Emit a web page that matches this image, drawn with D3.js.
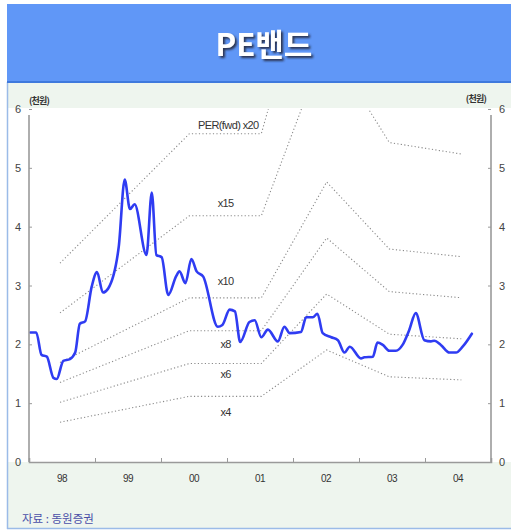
<!DOCTYPE html>
<html>
<head>
<meta charset="utf-8">
<script src="https://cdn.jsdelivr.net/npm/d3@7"></script>
<style>
  html, body { margin: 0; padding: 0; background: #ffffff; }
  svg { display: block; }
</style>
</head>
<body>
<svg id="chart" width="511" height="531"></svg>
<script>
// Share price (thousand won), sampled along the period in decimal years
const priceDates = [1998.02, 1998.11, 1998.19, 1998.27, 1998.37, 1998.42, 1998.52, 1998.62, 1998.70, 1998.77,
  1998.85, 1998.95, 1999.03, 1999.12, 1999.20, 1999.36, 1999.45, 1999.53, 1999.60, 1999.78,
  1999.86, 1999.93, 2000.01, 2000.11, 2000.23, 2000.28, 2000.37, 2000.46, 2000.54, 2000.64,
  2000.86, 2000.93, 2001.04, 2001.12, 2001.20, 2001.34, 2001.42, 2001.52, 2001.62, 2001.77,
  2001.87, 2001.95, 2002.12, 2002.20, 2002.30, 2002.37, 2002.45, 2002.58, 2002.68, 2002.78,
  2002.86, 2003.03, 2003.08, 2003.21, 2003.28, 2003.36, 2003.46, 2003.56, 2003.66, 2003.76,
  2003.86, 2003.99, 2004.09, 2004.14, 2004.24, 2004.37, 2004.47, 2004.57, 2004.71];
const priceValues = [2.20, 2.20, 1.82, 1.79, 1.43, 1.41, 1.72, 1.75, 1.86, 2.35,
  2.39, 2.98, 3.23, 2.88, 2.95, 3.66, 4.80, 4.30, 4.38, 3.52,
  4.58, 3.52, 3.48, 2.84, 3.16, 3.24, 3.04, 3.45, 3.24, 3.15,
  2.30, 2.33, 2.59, 2.56, 2.04, 2.38, 2.41, 2.12, 2.25, 2.05,
  2.30, 2.19, 2.21, 2.46, 2.46, 2.52, 2.19, 2.12, 2.07, 1.86,
  1.96, 1.76, 1.78, 1.79, 2.03, 1.99, 1.89, 1.89, 1.99, 2.24,
  2.53, 2.07, 2.05, 2.06, 1.99, 1.86, 1.86, 1.96, 2.18];

// Earnings per share path used for the PER bands
const epsDates = [1998.47, 2000.43, 2001.52, 2002.51, 2003.46, 2004.55];
const epsValues = [0.169, 0.279, 0.279, 0.476, 0.362, 0.349];

// Band multiples and their labels
const bandMultiples = [20, 15, 10, 8, 6, 4];
const bandLabels = ["PER(fwd) x20", "x15", "x10", "x8", "x6", "x4"];

// Axis text
const yearTicks = [1998, 1999, 2000, 2001, 2002, 2003, 2004, 2005];
const yearLabels = ["98", "99", "00", "01", "02", "03", "04"];
const yTicks = [0, 1, 2, 3, 4, 5, 6];
const unitLabel = "(천원)";
const titleText = "PE밴드";
const sourceText = "자료 : 동원증권";

const svg = d3.select("#chart");
const W = 511, H = 531;
const plot = { left: 29, right: 491, top: 109, bottom: 462 };

// Outer panel
svg.append("rect").attr("x", 7).attr("y", 82).attr("width", W - 7).attr("height", 447)
  .attr("fill", "#eef5ee");
svg.append("rect").attr("x", 7).attr("y", 108).attr("width", W - 7).attr("height", plot.bottom - 108)
  .attr("fill", "#ffffff");
svg.append("line").attr("x1", 7.5).attr("x2", 7.5).attr("y1", 82).attr("y2", 529)
  .attr("stroke", "#9bbbe8").attr("stroke-width", 1.5);
svg.append("line").attr("x1", 7).attr("x2", W).attr("y1", 528.5).attr("y2", 528.5)
  .attr("stroke", "#9bbbe8").attr("stroke-width", 1.5);

// Header band
svg.append("rect").attr("x", 7).attr("y", 4).attr("width", W - 7).attr("height", 78)
  .attr("fill", "#6097f7");
svg.append("line").attr("x1", 7).attr("x2", W).attr("y1", 82).attr("y2", 82)
  .attr("stroke", "#3f79dd").attr("stroke-width", 2);

const defs = svg.append("defs");
defs.append("filter").attr("id", "titleShadow")
  .attr("x", "-10%").attr("y", "-20%").attr("width", "130%").attr("height", "150%")
  .append("feDropShadow").attr("dx", 2).attr("dy", 2).attr("stdDeviation", 0.9)
  .attr("flood-color", "#23283d").attr("flood-opacity", 0.9);
defs.append("clipPath").attr("id", "plotClip").append("rect")
  .attr("x", plot.left).attr("y", plot.top)
  .attr("width", plot.right - plot.left).attr("height", plot.bottom - plot.top);

svg.append("text").attr("x", 264).attr("y", 56)
  .attr("font-family", "'Noto Sans CJK KR', 'Noto Sans', sans-serif")
  .attr("font-weight", 700).attr("font-size", 31).attr("text-anchor", "middle")
  .attr("fill", "#ffffff").attr("filter", "url(#titleShadow)").text(titleText);

// Scales
const x = d3.scaleLinear().domain([1998, 2005]).range([plot.left, plot.right]);
const y = d3.scaleLinear().domain([0, 6]).range([plot.bottom, plot.top]);

// PER band lines
const eps = epsDates.map((d, i) => ({ t: d, e: epsValues[i] }));
const bandLine = k => d3.line().x(d => x(d.t)).y(d => y(d.e * k));
const bands = svg.append("g").attr("clip-path", "url(#plotClip)");
bandMultiples.forEach(k => {
  bands.append("path").attr("d", bandLine(k)(eps))
    .attr("fill", "none").attr("stroke", "#8a8a8a").attr("stroke-width", 1.1)
    .attr("stroke-dasharray", "1.2,2.3");
});

// Band labels, placed beside the flat stretch of each band
const flatEps = epsValues[1];
const labelOffsets = [-5, -9, -13, 17, 14, 20];
svg.append("g").attr("font-family", "'Liberation Sans', Arial, sans-serif")
  .attr("font-size", 11).attr("fill", "#333").attr("letter-spacing", -0.6)
  .attr("text-anchor", "middle")
  .selectAll("text").data(bandMultiples).join("text")
  .attr("x", (k, i) => i === 0 ? x(2001.02) : x(2000.98))
  .attr("y", (k, i) => y(k * flatEps) + labelOffsets[i])
  .text((k, i) => bandLabels[i]);

// Price line
const price = priceDates.map((d, i) => ({ t: d, v: priceValues[i] }));
svg.append("path")
  .attr("d", d3.line().x(d => x(d.t)).y(d => y(d.v)).curve(d3.curveMonotoneX)(price))
  .attr("fill", "none").attr("stroke", "#2f3cf2").attr("stroke-width", 2.6)
  .attr("stroke-linejoin", "round").attr("stroke-linecap", "round");

// Axes
const axisColor = "#9a9a9a";
const gx = svg.append("g").attr("transform", `translate(0,${plot.bottom})`)
  .call(d3.axisTop(x).tickValues(yearTicks).tickSize(4).tickFormat(""));
const gl = svg.append("g").attr("transform", `translate(${plot.left},0)`)
  .call(d3.axisRight(y).tickValues(yTicks).tickSize(3).tickFormat(""));
const gr = svg.append("g").attr("transform", `translate(${plot.right},0)`)
  .call(d3.axisLeft(y).tickValues(yTicks).tickSize(3).tickFormat(""));
[gx, gl, gr].forEach(g => {
  g.select(".domain").attr("stroke", axisColor).attr("stroke-width", 1.6);
  g.selectAll(".tick line").attr("stroke", axisColor).attr("stroke-width", 1);
});
gl.select(".domain").attr("d", `M0,${plot.top + 6}V${plot.bottom}`);
gr.select(".domain").attr("d", `M0,${plot.top + 6}V${plot.bottom}`);

// Tick labels
const tickFont = "'Liberation Sans', Arial, sans-serif";
svg.append("g").attr("font-family", tickFont).attr("font-size", 11).attr("fill", "#444")
  .attr("text-anchor", "middle")
  .selectAll("text").data(yTicks).join("text")
  .attr("x", 18).attr("y", d => y(d) + 4).text(d => d);
svg.append("g").attr("font-family", tickFont).attr("font-size", 11).attr("fill", "#444")
  .attr("text-anchor", "middle")
  .selectAll("text").data(yTicks).join("text")
  .attr("x", 502).attr("y", d => y(d) + 4).text(d => d);
svg.append("g").attr("font-family", tickFont).attr("font-size", 10).attr("fill", "#333")
  .attr("text-anchor", "middle").attr("letter-spacing", -0.5)
  .selectAll("text").data(yearLabels).join("text")
  .attr("x", (d, i) => x(yearTicks[i] + 0.5)).attr("y", 482).text(d => d);

// Unit labels
const unitG = svg.append("g").attr("font-family", "'Noto Sans CJK KR', sans-serif")
  .attr("font-size", 9).attr("font-weight", 700).attr("fill", "#333").attr("letter-spacing", -0.8);
unitG.append("text").attr("x", 29).attr("y", 104).text(unitLabel);
unitG.append("text").attr("x", 486).attr("y", 102).attr("text-anchor", "end").text(unitLabel);

// Source note
svg.append("text").attr("x", 22).attr("y", 523)
  .attr("font-family", "'Noto Sans CJK KR', sans-serif").attr("font-size", 11.5)
  .attr("fill", "#4a4fa8").text(sourceText);
</script>
</body>
</html>
